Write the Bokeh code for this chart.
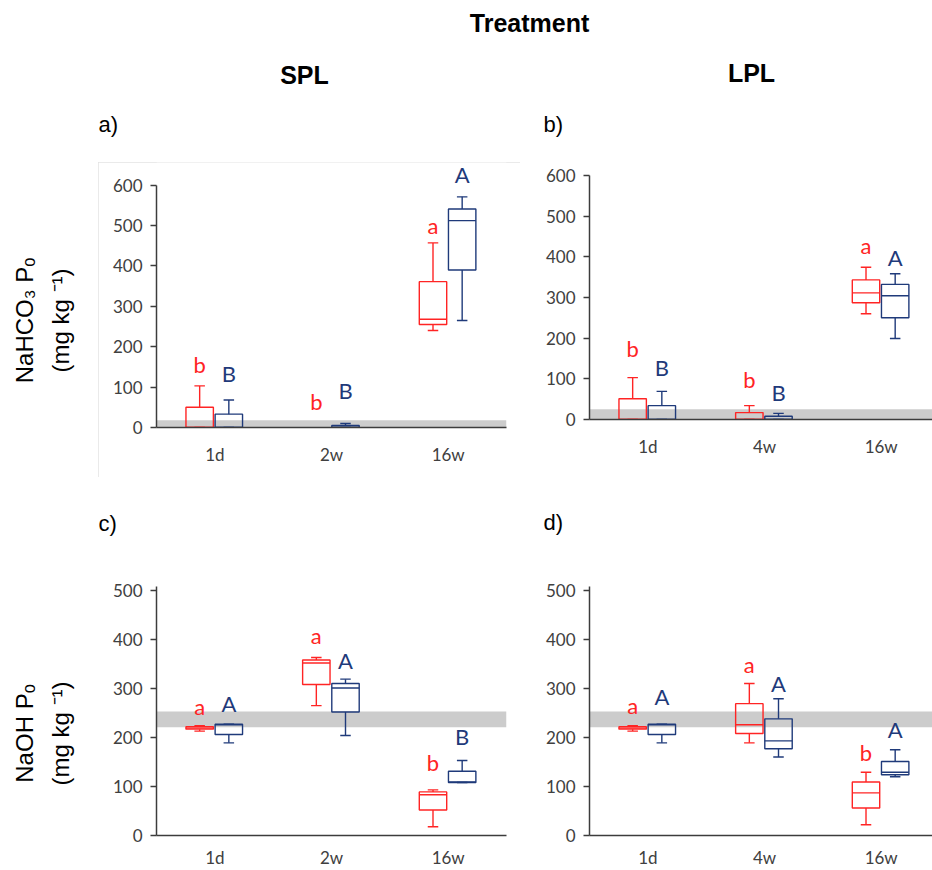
import math
import numpy as np
from bokeh.plotting import figure
from bokeh.layouts import row, column
from bokeh.models import Range1d, BoxAnnotation, ColumnDataSource
from bokeh.core.properties import value
from bokeh.embed import file_html
from bokeh.resources import INLINE

NAN = float("nan")

# ---------------- data ----------------
CATS_SPL = ["1d", "2w", "16w"]
CATS_LPL = ["1d", "4w", "16w"]

# five-number summaries per category: (lower whisker, Q1, median, Q3, upper whisker)
A_RED = [(0, 0, 0, 50, 103), (NAN, NAN, NAN, NAN, NAN), (240, 255, 268, 361, 457)]
A_BLUE = [(0, 0, 0, 33, 68), (0, 0, 0, 5, 10), (265, 390, 512, 541, 571)]
B_RED = [(0, 0, 0, 51, 103), (0, 0, 0, 17, 34), (260, 287, 311, 343, 374)]
B_BLUE = [(0, 0, 0, 34, 69), (0, 0, 0, 8, 15), (199, 250, 304, 332, 358)]
C_RED = [(213, 217, 219, 222, 224), (265, 308, 352, 358, 363), (18, 52, 83, 89, 93)]
C_BLUE = [(189, 206, 226, 227, 227), (204, 252, 301, 310, 319), (108, 108, 109, 131, 153)]
D_RED = [(213, 217, 219, 222, 224), (189, 208, 226, 269, 310), (22, 56, 87, 109, 129)]
D_BLUE = [(189, 206, 226, 227, 227), (160, 177, 193, 238, 279), (120, 124, 129, 151, 175)]

# significance letters and their heights
A_RED_TXT, A_RED_TY = ["b", "b", "a"], [157, 64, 499]
A_BLUE_TXT, A_BLUE_TY = ["B", "B", "A"], [134, 91, 626]
B_RED_TXT, B_RED_TY = ["b", "b", "a"], [174, 99, 428]
B_BLUE_TXT, B_BLUE_TY = ["B", "B", "A"], [128, 66, 398]
C_RED_TXT, C_RED_TY = ["a", "a", "b"], [263, 408, 148]
C_BLUE_TXT, C_BLUE_TY = ["A", "A", "B"], [269, 358, 202]
D_RED_TXT, D_RED_TY = ["a", "a", "b"], [265, 349, 170]
D_BLUE_TXT, D_BLUE_TY = ["A", "A", "A"], [284, 311, 216]

# grey reference bands
BAND_A = (0, 18)
BAND_B = (0, 25)
BAND_C = (221, 253)
BAND_D = (221, 253)

# ---------------- style ----------------
RED = "#ff2424"
BLUE = "#1f3a7a"
BAND = "#cccccc"
AXIS = "#3c3c3c"
TICK_TXT = "#404040"
W = 0.235
CAP = 0.045
D_RED_OFF = -0.13
D_BLUE_OFF = 0.12


def draw_series(p, centers, stats, dodge, color, letters, letter_y):
    xs = np.array([c + dodge for c in centers], dtype=float)
    lo, q1, med, q3, hi = [np.array(v, dtype=float) for v in zip(*stats)]
    src = ColumnDataSource(dict(x=xs, xl=xs - W / 2, xr=xs + W / 2, cl=xs - CAP, cr=xs + CAP,
                                lo=lo, q1=q1, med=med, q3=q3, hi=hi))
    kw = dict(source=src, line_color=color, line_width=1.4)
    p.segment(x0="x", y0="q3", x1="x", y1="hi", **kw)
    p.segment(x0="x", y0="q1", x1="x", y1="lo", **kw)
    p.segment(x0="cl", y0="hi", x1="cr", y1="hi", **kw)
    p.segment(x0="cl", y0="lo", x1="cr", y1="lo", **kw)
    p.quad(left="xl", right="xr", bottom="q1", top="q3", fill_alpha=0, **kw)
    p.segment(x0="xl", y0="med", x1="xr", y1="med", **kw)
    p.text(x=list(xs), y=letter_y, text=letters, text_color=color,
           text_font=value("Lato"), text_font_size="22px",
           text_align="center", text_baseline="middle")


def panel(fw, fh, bl, br, bt, bb, x_end, y_end, y_max, cats, red, blue,
          rt, rty, bt_, bty, band, bounds, x_standoff):
    p = figure(width=fw, height=fh, x_range=Range1d(0, x_end), y_range=Range1d(0, y_end),
               output_backend="svg", toolbar_location=None,
               min_border_left=bl, min_border_right=br, min_border_top=bt, min_border_bottom=bb)
    p.xgrid.visible = False
    p.ygrid.visible = False
    p.outline_line_color = None
    p.add_layout(BoxAnnotation(bottom=band[0], top=band[1], fill_color=BAND, fill_alpha=1,
                               line_color=None, level="underlay"))
    centers = [i + 0.5 for i in range(len(cats))]
    draw_series(p, centers, red, D_RED_OFF, RED, rt, rty)
    draw_series(p, centers, blue, D_BLUE_OFF, BLUE, bt_, bty)

    p.xaxis.ticker = centers
    p.xaxis.major_label_overrides = {c: n for c, n in zip(centers, cats)}
    p.yaxis.ticker = list(range(0, y_max + 1, 100))
    if bounds is not None:
        p.yaxis.bounds = bounds
    for ax in (p.xaxis, p.yaxis):
        ax.axis_line_color = AXIS
        ax.axis_line_width = 1.5
        ax.major_tick_line_color = AXIS
        ax.major_tick_line_width = 1.5
        ax.minor_tick_line_color = None
        ax.major_tick_in = 0
        ax.major_label_text_font = "Lato"
        ax.major_label_text_font_size = "17px"
        ax.major_label_text_color = TICK_TXT
    p.xaxis.major_tick_out = 0
    p.xaxis.major_label_standoff = x_standoff
    p.yaxis.major_tick_out = 6
    p.yaxis.major_label_standoff = 8
    return p


def deco(fw, fh, x0, x1, y_top, y_bottom):
    p = figure(width=fw, height=fh, x_range=Range1d(x0, x1), y_range=Range1d(y_bottom, y_top),
               x_axis_location=None, y_axis_location=None, output_backend="svg",
               toolbar_location=None, min_border=0)
    p.xgrid.visible = False
    p.ygrid.visible = False
    p.outline_line_color = None
    return p


def txt(p, x, y, s, size, bold=False, align="center", angle=0.0):
    p.text(x=[x], y=[y], text=[s], text_font=value("Liberation Sans"),
           text_font_size=size, text_font_style="bold" if bold else "normal",
           text_color="#000000", text_align=align, text_baseline="middle", angle=angle,
           text_line_height=1.3)


# ---------------- panels ----------------
fa = panel(422, 315, 58, 14, 0, 50, 3.0, 656, 600, CATS_SPL, A_RED, A_BLUE,
           A_RED_TXT, A_RED_TY, A_BLUE_TXT, A_BLUE_TY, BAND_A, (0, 600), 16)
fa.styles = {"outline": "1px solid #e3e3e3", "outline-offset": "-1px",
             "position": "relative", "z-index": "2"}
fb = panel(412, 315, 69, 0, 1, 58, 343 / 116.67, 629, 600, CATS_LPL, B_RED, B_BLUE,
           B_RED_TXT, B_RED_TY, B_BLUE_TXT, B_BLUE_TY, BAND_B, (0, 600), 16)
fc = panel(422, 310, 58, 14, 26, 35, 3.0, 508, 500, CATS_SPL, C_RED, C_BLUE,
           C_RED_TXT, C_RED_TY, C_BLUE_TXT, C_BLUE_TY, BAND_C, None, 11)
fd = panel(412, 310, 69, 0, 26, 35, 343 / 116.67, 508, 500, CATS_LPL, D_RED, D_BLUE,
           D_RED_TXT, D_RED_TY, D_BLUE_TXT, D_BLUE_TY, BAND_D, None, 11)

# ---------------- decorations ----------------
lab = deco(98, 870, 0, 98, 0, 870)
txt(lab, 42, 320, "NaHCO\u2083 P\u2092\n(mg kg \u207b\u00b9)", "24px", angle=math.pi / 2)
txt(lab, 42, 733, "NaOH P\u2092\n(mg kg \u207b\u00b9)", "24px", angle=math.pi / 2)

treat = deco(834, 45, 98, 932, 0, 45)
txt(treat, 529, 22, "Treatment", "25px", bold=True)

top_a = deco(422, 117, 98, 520, 45, 162)
txt(top_a, 304, 74, "SPL", "25px", bold=True)
txt(top_a, 98, 124, "a)", "22px", align="left")
top_b = deco(412, 117, 520, 932, 45, 162)
txt(top_b, 751, 72, "LPL", "25px", bold=True)
txt(top_b, 543, 124, "b)", "22px", align="left")

mid_c = deco(422, 83, 98, 520, 477, 560)
txt(mid_c, 98, 523, "c)", "22px", align="left")
mid_d = deco(412, 83, 520, 932, 477, 560)
txt(mid_d, 543, 522, "d)", "22px", align="left")

col_a = column(row(top_a), fa, row(mid_c), fc)
col_b = column(row(top_b), fb, row(mid_d), fd)
layout = row(lab, column(treat, row(col_a, col_b)))

open("out.html", "w").write(file_html(layout, INLINE))
